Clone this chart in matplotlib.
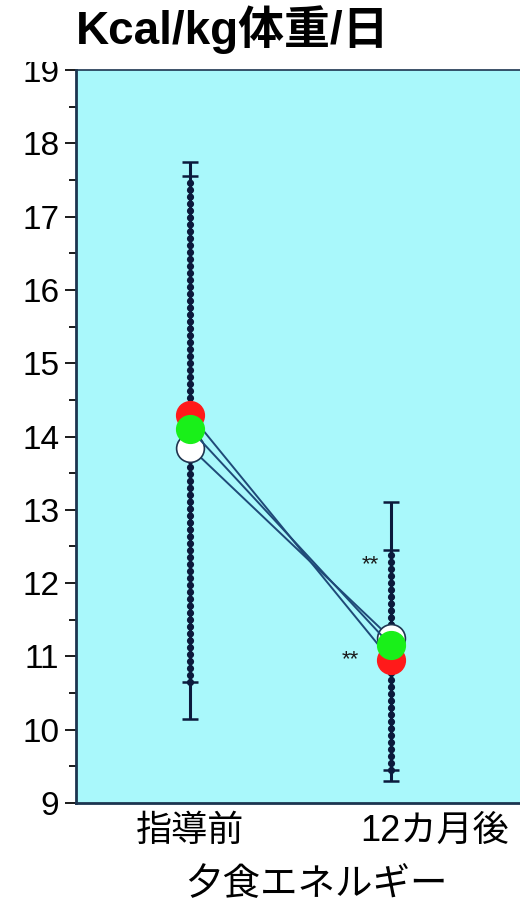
import matplotlib.pyplot as plt
from matplotlib.ticker import MultipleLocator
from matplotlib.transforms import ScaledTranslation, Bbox

# データ
zeitpunkte = ['指導前', '12カ月後']
x = [0, 1]
wert_weiss = [13.85, 11.25]
wert_rot = [14.30, 10.95]
wert_gruen = [14.10, 11.15]

# SD範囲 (外側: 実線, 内側: 点線)
aussen_unten = [10.15, 9.30]
aussen_oben = [17.75, 13.10]
innen_unten = [10.65, 9.45]
innen_oben = [17.55, 12.45]

sterne_x = [0.90, 0.80]
sterne_y = [12.25, 10.95]

fam = ['Liberation Sans', 'Noto Sans CJK JP']
plt.rcParams['font.family'] = fam

fig = plt.figure(figsize=(5.2, 9.06), dpi=100)
ax = fig.add_axes([0.146, 0.1137, 0.86, 0.809])
ax.set_facecolor('#a9f8fb')

navy = '#0b1a3c'

# Fehlerbalken
mitte_aussen = [(a + b) / 2 for a, b in zip(aussen_unten, aussen_oben)]
halb_aussen = [(b - a) / 2 for a, b in zip(aussen_unten, aussen_oben)]
ax.errorbar(x, mitte_aussen, yerr=[halb_aussen, halb_aussen],
            fmt='none', ecolor=navy, elinewidth=2.2, capsize=6, capthick=1.8, zorder=2)
mitte_innen = [(a + b) / 2 for a, b in zip(innen_unten, innen_oben)]
halb_innen = [(b - a) / 2 for a, b in zip(innen_unten, innen_oben)]
eb2 = ax.errorbar(x, mitte_innen, yerr=[halb_innen, halb_innen],
                  fmt='none', ecolor=navy, elinewidth=5.2, capsize=6, capthick=1.8, zorder=2)
eb2[2][0].set_linestyle((0, (0.01, 0.95)))
eb2[2][0].set_capstyle('round')

# Linien und Punkte
ax.plot(x, wert_weiss, '-o', color='#1f4a78', lw=1.4, ms=20,
        mfc='white', mec='#1f3550', mew=1.2, zorder=3)
ax.plot(x, wert_rot, '-o', color='#1f4a78', lw=1.4, ms=20,
        mfc='#ff1a1a', mec='#ff1a1a', zorder=4)
ax.plot(x, wert_gruen, '-o', color='#1f4a78', lw=1.4, ms=20,
        mfc='#19f019', mec='#19f019', zorder=5)

for sx, sy in zip(sterne_x, sterne_y):
    ax.text(sx, sy, '**', fontsize=16, ha='center', va='center', color='#1a1a1a')

ax.set_xlim(-0.57, 1.66)
ax.set_ylim(9, 19)
ax.yaxis.set_major_locator(MultipleLocator(1))
ax.yaxis.set_minor_locator(MultipleLocator(0.5))
ax.tick_params(axis='y', which='major', length=8, width=1.4, labelsize=24, pad=4, color='#1a1a1a')
ax.tick_params(axis='y', which='minor', length=5, width=1.4, color='#1a1a1a')
ax.set_xticks(x)
ax.set_xticklabels(zeitpunkte, fontsize=26)
ax.tick_params(axis='x', length=0, pad=8)
lbls = ax.get_xticklabels()
lbls[1].set_transform(lbls[1].get_transform() + ScaledTranslation(0.44, 0, fig.dpi_scale_trans))

for s in ['left', 'bottom']:
    ax.spines[s].set_color('#1c3550')
    ax.spines[s].set_linewidth(2)
ax.spines['top'].set_color('#1c3550')
ax.spines['top'].set_linewidth(1.2)
ax.spines['right'].set_visible(False)

# 19 は上半分が切れている
fig.canvas.draw()
for t in ax.get_yticklabels():
    if t.get_text() == '19':
        t.set_clip_box(Bbox([[0, 0], [520, 906 - 62]]))
        t.set_clip_on(True)

fig.text(0.447, 1 - 44 / 906, 'Kcal/kg体重/日', fontsize=33, fontweight='bold',
         ha='center', va='baseline', family=fam)
fig.text(0.608, 1 - 885 / 906, '夕食エネルギー', fontsize=27, ha='center', va='center',
         family=fam)

fig.savefig('out.png', dpi=100)
